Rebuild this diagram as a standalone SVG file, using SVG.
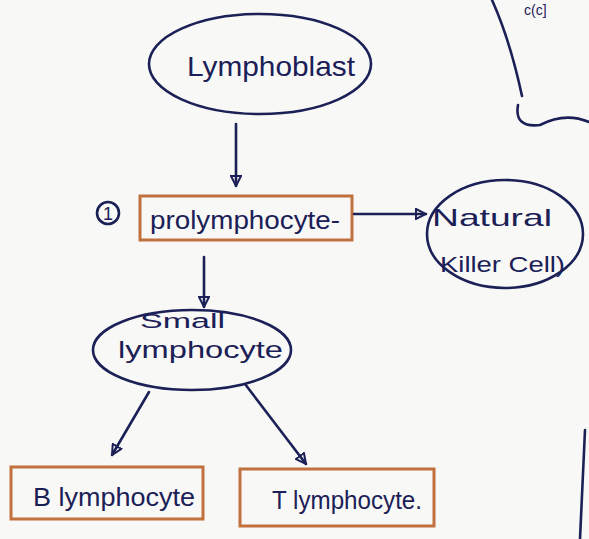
<svg xmlns="http://www.w3.org/2000/svg" width="589" height="539" viewBox="0 0 589 539">
<defs>
<style>
.ink{fill:none;stroke:#1b2057;stroke-width:2.6;stroke-linecap:round;stroke-linejoin:round}
.box{fill:none;stroke:#c2703d;stroke-width:3}
.t{font-family:"Liberation Sans","DejaVu Sans",sans-serif;fill:#1b2057}
</style>
<marker id="ah" viewBox="0 0 12 12" refX="11" refY="6" markerWidth="12" markerHeight="12" markerUnits="userSpaceOnUse" orient="auto">
<path d="M1,1 L11,6 L1,11 Z" fill="none" stroke="#1b2057" stroke-width="2"/>
</marker>
</defs>
<rect width="589" height="539" fill="#f8f8f6"/>
<g id="lymphoblast">
<ellipse class="ink" cx="260" cy="64" rx="111" ry="50"/>
<text class="t" x="187" y="76" font-size="28" textLength="168" lengthAdjust="spacingAndGlyphs">Lymphoblast</text>
</g>
<g id="prolymphocyte">
<circle class="ink" cx="108" cy="213" r="11"/>
<text class="t" x="103" y="220" font-size="18">1</text>
<rect class="box" x="140" y="196" width="212" height="44"/>
<text class="t" x="150" y="229" font-size="25" textLength="190" lengthAdjust="spacingAndGlyphs">prolymphocyte-</text>
</g>
<g id="natural-killer">
<ellipse class="ink" cx="505" cy="234" rx="78" ry="54"/>
<text class="t" x="432" y="226" font-size="24" textLength="120" lengthAdjust="spacingAndGlyphs">Natural</text>
<text class="t" x="440" y="272" font-size="22" textLength="125" lengthAdjust="spacingAndGlyphs">Killer Cell)</text>
</g>
<g id="small-lymphocyte">
<ellipse class="ink" cx="192" cy="350" rx="99" ry="40"/>
<text class="t" x="140" y="328" font-size="20" textLength="85" lengthAdjust="spacingAndGlyphs">Small</text>
<text class="t" x="118" y="358" font-size="24" textLength="165" lengthAdjust="spacingAndGlyphs">lymphocyte</text>
</g>
<g id="b-lymphocyte">
<rect class="box" x="11" y="467" width="192" height="52"/>
<text class="t" x="33" y="506" font-size="26" textLength="162" lengthAdjust="spacingAndGlyphs">B lymphocyte</text>
</g>
<g id="t-lymphocyte">
<rect class="box" x="240" y="469" width="194" height="57"/>
<text class="t" x="272" y="509" font-size="26" textLength="150" lengthAdjust="spacingAndGlyphs">T lymphocyte.</text>
</g>
<g id="connectors">
<path class="ink" d="M236,124 L236,186" marker-end="url(#ah)"/>
<path class="ink" d="M354,214 L426,214" marker-end="url(#ah)"/>
<path class="ink" d="M204,257 L204,307" marker-end="url(#ah)"/>
<path class="ink" d="M149,392 L112,455" marker-end="url(#ah)"/>
<path class="ink" d="M245,384 L306,464" marker-end="url(#ah)"/>
</g>
<g id="margin">
<path class="ink" d="M492,0 Q510,40 522,96"/>
<path class="ink" d="M518,105 Q514,128 540,125 Q565,112 589,122"/>
<path class="ink" d="M585,430 L580,539"/>
<text class="t" x="524" y="15" font-size="14">c(c]</text>
</g>
</svg>
